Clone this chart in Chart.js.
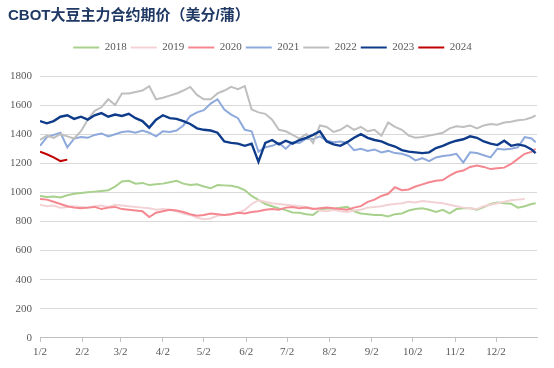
<!DOCTYPE html>
<html>
<head>
<meta charset="utf-8">
<script src="https://cdn.jsdelivr.net/npm/chart.js@4.4.0/dist/chart.umd.min.js"></script>
<style>
html,body{margin:0;padding:0;background:#fff}
</style>
</head>
<body>
<canvas id="myChart" width="554" height="368"></canvas>
<script>
// days counted from Jan 2
const days = [0,5,10,15,20,25,30,35,40,45,50,55,60,65,70,75,80,85,90,95,
  100,105,110,115,120,125,130,135,140,145,150,155,160,165,170,175,180,185,190,195,
  200,205,210,215,220,225,230,235,240,245,250,255,260,265,270,275,280,285,290,295,
  300,305,310,315,320,325,330,335,340,345,350,355,360,363];

const tickDays = [0,31,59,90,120,151,181,212,243,273,304,334];
const tickLabels = ['1/2','2/2','3/2','4/2','5/2','6/2','7/2','8/2','9/2','10/2','11/2','12/2'];

const y2018 = [975,968,972,965,980,990,995,1000,1005,1010,
  1015,1040,1075,1080,1060,1065,1050,1055,1060,1070,
  1080,1060,1050,1055,1040,1028,1050,1048,1045,1035,
  1015,975,948,920,905,890,878,862,860,850,
  845,880,890,885,895,900,870,855,850,845,
  845,835,850,855,875,885,890,880,865,880,
  855,885,890,890,880,898,920,930,925,922,
  895,905,920,925];
const y2019 = [915,905,910,895,900,905,900,895,905,910,
  900,915,910,905,900,895,890,880,885,880,
  870,855,845,825,815,820,840,845,850,860,
  880,920,945,935,925,920,915,910,905,900,
  890,875,870,880,870,865,875,880,895,900,
  905,915,920,925,935,930,940,935,930,925,
  915,905,895,890,885,905,915,925,935,945,
  950,955,null,null];
const y2020 = [955,950,935,920,905,895,890,895,900,885,
  895,900,885,880,875,870,830,860,870,880,
  875,865,850,840,845,855,850,845,850,860,
  855,865,870,880,885,880,895,900,890,895,
  885,890,895,890,885,880,895,905,935,950,
  975,990,1035,1015,1020,1040,1055,1070,1080,1085,
  1115,1140,1150,1175,1185,1175,1160,1165,1170,1195,
  1230,1265,1278,1300];
const y2021 = [1320,1380,1395,1410,1310,1370,1380,1375,1395,1405,
  1385,1400,1415,1420,1410,1425,1410,1385,1420,1415,
  1425,1460,1525,1550,1565,1610,1640,1570,1535,1510,
  1430,1420,1280,1310,1320,1340,1300,1345,1340,1370,
  1365,1385,1355,1345,1350,1340,1290,1300,1285,1295,
  1275,1285,1270,1265,1250,1220,1235,1215,1240,1250,
  1255,1265,1205,1275,1270,1255,1240,1300,1295,1300,
  1310,1380,1370,1345];
const y2022 = [1360,1390,1375,1400,1385,1370,1420,1500,1560,1585,
  1640,1600,1680,1680,1690,1700,1730,1640,1650,1665,
  1680,1700,1725,1670,1640,1640,1680,1700,1725,1710,
  1730,1570,1550,1540,1500,1430,1420,1395,1370,1400,
  1340,1460,1450,1415,1430,1460,1430,1450,1420,1430,
  1390,1480,1450,1430,1390,1375,1380,1390,1400,1410,
  1440,1455,1450,1460,1440,1460,1470,1465,1480,1485,
  1495,1500,1515,1530];
const y2023 = [1490,1475,1490,1520,1530,1505,1520,1500,1530,1545,
  1520,1535,1525,1540,1510,1490,1445,1500,1530,1510,
  1505,1490,1470,1440,1430,1425,1410,1350,1340,1335,
  1320,1335,1210,1340,1360,1330,1355,1335,1360,1375,
  1395,1420,1350,1330,1320,1345,1375,1400,1375,1360,
  1350,1330,1315,1290,1280,1275,1270,1275,1305,1320,
  1340,1355,1365,1385,1375,1350,1335,1325,1355,1320,
  1330,1320,1295,1270];
const y2024 = [1280,1262,1240,1215,1225];

const series = [
  {label:'2018', data:y2018, color:'#A9D18E'},
  {label:'2019', data:y2019, color:'#F2D2D4'},
  {label:'2020', data:y2020, color:'#F4878F'},
  {label:'2021', data:y2021, color:'#8EA9DB'},
  {label:'2022', data:y2022, color:'#BFBFBF'},
  {label:'2023', data:y2023, color:'#0E3B8A'},
  {label:'2024', data:y2024, color:'#C00000'}
];

const serif = '"Liberation Serif", "Times New Roman", serif';
const grayText = '#595959';

const datasets = series.map((s, i) => ({
  label: s.label,
  data: s.data.map((v, j) => ({x: days[j], y: v})).filter(p => p.y !== null),
  borderColor: s.color,
  backgroundColor: s.color,
  borderWidth: s.label === '2023' ? 2.4 : 2,
  pointRadius: 0,
  tension: 0,
  order: series.length - i
}));

// extra room under the legend
const legendGap = {
  id: 'legendGap',
  beforeInit(chart) {
    const fit = chart.legend.fit;
    chart.legend.fit = function() {
      fit.bind(chart.legend)();
      this.height += 13;
    };
  }
};

const ctx = document.getElementById('myChart');
new Chart(ctx, {
  type: 'line',
  data: { datasets: datasets },
  plugins: [legendGap],
  options: {
    responsive: false,
    animation: false,
    layout: { padding: { left: 8, right: 17, top: 7, bottom: 5 } },
    plugins: {
      title: {
        display: true,
        text: 'CBOT大豆主力合约期价（美分/蒲）',
        align: 'start',
        color: '#1F3864',
        font: { family: '"Liberation Sans", "Noto Sans CJK SC"', size: 15, weight: 'bold' },
        padding: { top: 0, bottom: 13 }
      },
      legend: {
        labels: {
          boxWidth: 26,
          boxHeight: 2,
          padding: 4,
          color: grayText,
          font: { family: serif, size: 11 },
          sort: (a, b) => a.datasetIndex - b.datasetIndex,
          generateLabels: function(chart) {
            return Chart.defaults.plugins.legend.labels.generateLabels(chart).map(l => Object.assign(l, {lineWidth: 0}));
          }
        }
      },
      tooltip: { enabled: false }
    },
    scales: {
      x: {
        type: 'linear',
        min: 0,
        max: 364,
        afterBuildTicks: function(scale) {
          scale.ticks = tickDays.map(v => ({ value: v }));
        },
        ticks: {
          autoSkip: false,
          maxRotation: 0,
          padding: 4,
          color: grayText,
          font: { family: serif, size: 11 },
          callback: function(v) { return tickLabels[tickDays.indexOf(v)]; }
        },
        grid: { drawOnChartArea: false, drawTicks: true, tickLength: 4, color: '#BFBFBF' },
        border: { color: '#BFBFBF' }
      },
      y: {
        min: 0,
        max: 1800,
        afterFit: function(scale) { scale.width = 32; },
        ticks: {
          stepSize: 200,
          padding: 8,
          color: grayText,
          font: { family: serif, size: 11 },
          callback: function(v) { return String(v); }
        },
        grid: { color: '#D9D9D9', drawTicks: false },
        border: { display: false }
      }
    }
  }
});
</script>
</body>
</html>
